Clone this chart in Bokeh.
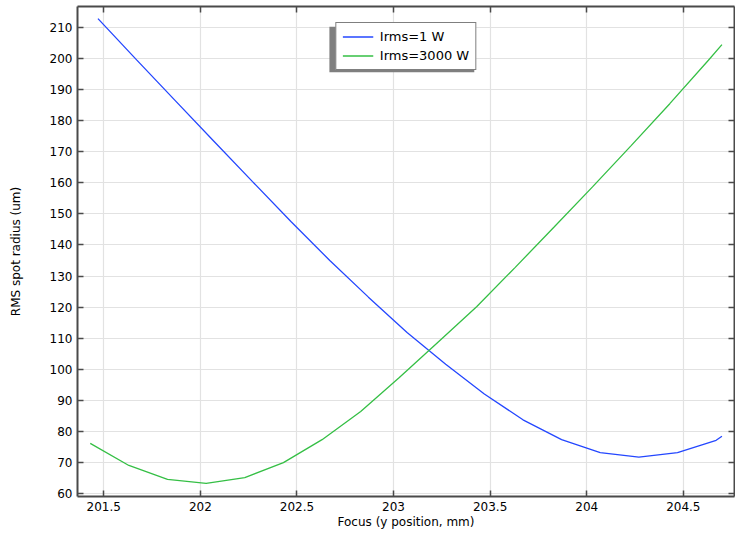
from bokeh.plotting import figure
from bokeh.models import (Range1d, LinearAxis, FixedTicker, Legend, LegendItem,
                          BoxAnnotation, Grid, CustomLabelingPolicy)
from bokeh.embed import file_html
from bokeh.resources import INLINE

# ---- data ----
x_1w = [201.47, 201.67, 201.87, 202.07, 202.27, 202.47, 202.67, 202.87, 203.07,
        203.27, 203.47, 203.67, 203.87, 204.07, 204.27, 204.47, 204.67, 204.70]
r_1w = [212.9, 199.6, 186.5, 173.4, 160.4, 147.5, 135.0, 123.2, 111.8,
        101.6, 92.0, 83.7, 77.3, 73.1, 71.7, 73.1, 77.1, 78.4]

x_3000w = [201.43, 201.63, 201.83, 202.03, 202.23, 202.43, 202.63, 202.83, 203.03,
           203.23, 203.43, 203.63, 203.83, 204.03, 204.23, 204.43, 204.63, 204.70]
r_3000w = [76.1, 69.0, 64.5, 63.2, 65.1, 69.9, 77.3, 86.4, 97.3,
           108.7, 120.1, 132.8, 145.7, 158.7, 172.0, 185.5, 199.5, 204.5]

series_names = ["Irms=1 W", "Irms=3000 W"]
x_ticks = [201.5, 202.0, 202.5, 203.0, 203.5, 204.0, 204.5]
x_tick_labels = ["201.5", "202", "202.5", "203", "203.5", "204", "204.5"]
y_ticks = list(range(60, 211, 10))

FONT = "DejaVu Sans"
AX = "#4a4a4a"

p = figure(width=735, height=534, output_backend="svg", toolbar_location=None,
           x_range=Range1d(201.364, 204.765), y_range=Range1d(59.0, 216.8),
           x_axis_location=None, y_axis_location=None,
           min_border_left=77, min_border_right=1, min_border_top=6,
           min_border_bottom=38, background_fill_color="white",
           border_fill_color="white")
p.outline_line_color = None


def style_axis(ax, labels=True):
    ax.axis_line_color = AX
    ax.axis_line_width = 2
    ax.major_tick_line_color = AX
    ax.major_tick_line_width = 1.5
    ax.major_tick_in = 6
    ax.major_tick_out = 0
    ax.minor_tick_line_color = None
    ax.major_label_text_font = FONT
    ax.major_label_text_font_size = "12px" if labels else "0px"
    ax.major_label_text_color = "black"
    ax.major_label_standoff = 5 if labels else 0
    ax.axis_label_text_font = FONT
    ax.axis_label_text_font_size = "12px"
    ax.axis_label_text_font_style = "normal"
    ax.axis_label_text_color = "black"
    if not labels:
        ax.major_label_policy = CustomLabelingPolicy(code="return new Set()")


xb = LinearAxis(ticker=FixedTicker(ticks=x_ticks), axis_label="Focus (y position, mm)")
xb.major_label_overrides = {t: l for t, l in zip(x_ticks, x_tick_labels)}
style_axis(xb)
xb.axis_label_standoff = 1
p.add_layout(xb, "below")

yl = LinearAxis(ticker=FixedTicker(ticks=y_ticks), axis_label="RMS spot radius (um)")
style_axis(yl)
yl.axis_label_standoff = 24
p.add_layout(yl, "left")

xt = LinearAxis(ticker=FixedTicker(ticks=x_ticks))
style_axis(xt, labels=False)
p.add_layout(xt, "above")

yr = LinearAxis(ticker=FixedTicker(ticks=y_ticks))
style_axis(yr, labels=False)
p.add_layout(yr, "right")

p.xgrid.visible = False
p.ygrid.visible = False
p.add_layout(Grid(dimension=0, ticker=FixedTicker(ticks=x_ticks),
                  grid_line_color="#e2e2e2", grid_line_width=1.2))
p.add_layout(Grid(dimension=1, ticker=FixedTicker(ticks=y_ticks),
                  grid_line_color="#e2e2e2", grid_line_width=1.2))

l1 = p.line(x_1w, r_1w, line_color="#2447ff", line_width=1.3)
l2 = p.line(x_3000w, r_3000w, line_color="#35bf45", line_width=1.3)

# legend shadow
shadow = BoxAnnotation(left=202.668, right=203.418, top=210.3, bottom=195.6,
                       fill_color="#7f7f7f", fill_alpha=1.0, line_color=None)
p.add_layout(shadow)

legend = Legend(items=[LegendItem(label=series_names[0], renderers=[l1]),
                       LegendItem(label=series_names[1], renderers=[l2])],
                location="top_center", margin=16, padding=6, spacing=4,
                glyph_width=31, glyph_height=15, label_height=15,
                label_standoff=7, label_text_font=FONT,
                label_text_font_size="13px", label_text_color="black",
                border_line_color="black", border_line_width=1,
                background_fill_color="white", background_fill_alpha=1.0)
p.add_layout(legend, "center")

open("out.html", "w").write(file_html(p, INLINE))
